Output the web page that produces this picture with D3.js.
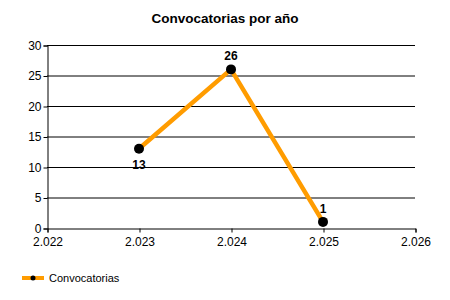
<!DOCTYPE html>
<html>
<head>
<meta charset="utf-8">
<script src="https://cdn.jsdelivr.net/npm/d3@7"></script>
<style>
  body { margin: 0; background: #fff; }
  text { font-family: "Liberation Sans", Arial, sans-serif; }
</style>
</head>
<body>
<div id="viz"></div>
<script>
// chart data
var years = [2023, 2024, 2025],
    counts = [13, 26, 1],
    labelPos = ['below', 'above', 'above'],
    xTicks = [2022, 2023, 2024, 2025, 2026],
    yTicks = [0, 5, 10, 15, 20, 25, 30],
    seriesName = 'Convocatorias',
    chartTitle = 'Convocatorias por año';

var width = 450, height = 300,
    plotLeft = 47, plotRight = 415, plotTop = 45, plotBottom = 228,
    lineColor = '#ff9c00';

var svg = d3.select('#viz').append('svg')
    .attr('width', width)
    .attr('height', height);

var x = d3.scaleLinear().domain([2022, 2026]).range([plotLeft, plotRight]),
    y = d3.scaleLinear().domain([0, 30]).range([plotBottom, plotTop]);

svg.append('text')
    .attr('x', 225).attr('y', 23)
    .attr('text-anchor', 'middle')
    .style('font-size', '13.5px').style('font-weight', 'bold')
    .text(chartTitle);

// horizontal grid
svg.append('g').selectAll('line')
    .data(yTicks.filter(function (d) { return d > 0; }))
    .enter().append('line')
    .attr('x1', plotLeft).attr('x2', plotRight)
    .attr('y1', function (d) { return y(d) + 0.5; })
    .attr('y2', function (d) { return y(d) + 0.5; })
    .style('stroke', '#000').style('stroke-width', 1);

var yAxis = svg.append('g')
    .attr('transform', 'translate(' + (plotLeft + 0.5) + ',0.5)')
    .call(d3.axisLeft(y).tickValues(yTicks).tickSize(4).tickPadding(2));

var xAxis = svg.append('g')
    .attr('transform', 'translate(0.5,' + (plotBottom + 0.5) + ')')
    .call(d3.axisBottom(x).tickValues(xTicks).tickSize(4).tickPadding(5)
        .tickFormat(function (d) { return String(d).replace(/^(\d)(\d{3})$/, '$1.$2'); }));

[yAxis, xAxis].forEach(function (g) {
    g.select('.domain').style('stroke', '#000');
    g.selectAll('.tick line').style('stroke', '#000');
    g.selectAll('text')
        .style('font-family', '"Liberation Sans", Arial, sans-serif')
        .style('font-size', '12px').style('fill', '#000');
});

var pts = years.map(function (d, i) { return { x: d, y: counts[i], pos: labelPos[i] }; });

svg.append('path')
    .datum(pts)
    .attr('d', d3.line().x(function (d) { return x(d.x); }).y(function (d) { return y(d.y); }))
    .style('fill', 'none')
    .style('stroke', lineColor)
    .style('stroke-width', 4.5);

svg.append('g').selectAll('circle')
    .data(pts).enter().append('circle')
    .attr('cx', function (d) { return x(d.x); })
    .attr('cy', function (d) { return y(d.y); })
    .attr('r', 5)
    .style('fill', '#000');

svg.append('g').selectAll('text')
    .data(pts).enter().append('text')
    .attr('x', function (d) { return x(d.x); })
    .attr('y', function (d) { return d.pos === 'below' ? y(d.y) + 20 : y(d.y) - 9; })
    .attr('text-anchor', 'middle')
    .style('font-size', '12px').style('font-weight', 'bold')
    .text(function (d) { return d.y; });

// legend
var legend = svg.append('g').attr('transform', 'translate(22,278)');
legend.append('line')
    .attr('x1', 0).attr('x2', 22).attr('y1', 0).attr('y2', 0)
    .style('stroke', lineColor).style('stroke-width', 4);
legend.append('circle').attr('cx', 11).attr('cy', 0).attr('r', 2.5).style('fill', '#000');
legend.append('text')
    .attr('x', 27).attr('y', 4)
    .style('font-size', '11px')
    .text(seriesName);
</script>
</body>
</html>
